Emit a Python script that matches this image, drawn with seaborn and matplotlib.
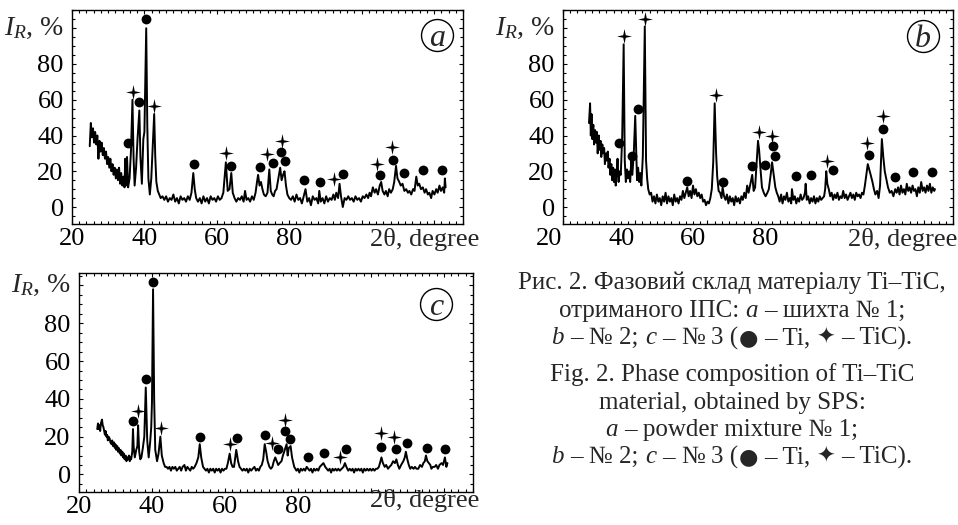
import numpy as np
import pandas as pd
import matplotlib.pyplot as plt
import seaborn as sns
from matplotlib.ticker import MultipleLocator, FixedLocator, FixedFormatter
from matplotlib.offsetbox import TextArea, HPacker, AnnotationBbox
from matplotlib.transforms import ScaledTranslation

# -----------------------------
# STYLE
# -----------------------------
sns.set_theme(style="ticks")
plt.rcParams['font.family'] = ['Liberation Serif', 'DejaVu Sans']
plt.rcParams['mathtext.fontset'] = 'custom'
plt.rcParams['mathtext.rm'] = 'Liberation Serif'
plt.rcParams['mathtext.it'] = 'Liberation Serif:italic'
plt.rcParams['axes.edgecolor'] = 'black'
plt.rcParams['xtick.color'] = 'black'
plt.rcParams['ytick.color'] = 'black'

# -----------------------------
# DATA
# -----------------------------

# panel a - mixture No 1
a_x = [24.9, 25.2, 25.5, 25.8, 26.1, 26.4, 26.7, 27.0, 27.3, 27.6, 27.9, 28.2, 28.5, 28.8, 29.1, 29.4,
       29.7, 30.0, 30.3, 30.6, 30.9, 31.2, 31.5, 31.8, 32.1, 32.4, 32.7, 33.0, 33.3, 33.6, 33.9, 34.2,
       34.5, 34.7, 34.9, 35.2, 35.5, 35.9, 36.3, 36.7, 37.0, 37.3, 37.7, 38.1, 38.6, 38.9, 39.3, 39.7,
       40.0, 40.5, 40.8, 41.1, 41.5, 41.9, 42.3, 42.7, 43.0, 43.3, 43.7, 44.1, 44.5, 45.0, 45.5, 46.0,
       46.5, 47.0, 47.5, 48.0, 48.5, 49.0, 49.5, 50.0, 50.5, 51.0, 51.5, 52.0, 52.5, 53.0, 53.5, 53.9,
       54.3, 54.8, 55.3, 55.8, 56.3, 56.8, 57.3, 57.8, 58.3, 58.8, 59.3, 59.8, 60.3, 60.8, 61.3, 61.8,
       62.5, 63.0, 63.5, 64.0, 64.4, 64.9, 65.4, 65.9, 66.4, 66.9, 67.4, 67.8, 68.2, 68.7, 69.2, 69.7,
       70.2, 70.7, 71.1, 71.4, 71.8, 72.2, 72.6, 73.0, 73.5, 74.0, 74.5, 74.9, 75.3, 75.7, 76.1, 76.5,
       77.0, 77.5, 77.9, 78.3, 78.7, 79.1, 79.5, 80.0, 80.5, 81.0, 81.5, 82.0, 82.5, 83.0, 83.5, 84.0,
       84.5, 85.0, 85.5, 86.0, 86.5, 87.0, 87.5, 88.0, 88.3, 88.7, 89.2, 89.7, 90.2, 90.7, 91.2, 91.7,
       92.2, 92.6, 93.0, 93.5, 93.9, 94.3, 94.8, 95.3, 95.8, 96.3, 96.8, 97.3, 97.8, 98.3, 98.8, 99.3,
       99.8, 100.3, 100.8, 101.3, 101.8, 102.2, 102.6, 103.1, 103.6, 104.0, 104.5, 105.0, 105.4, 105.8,
       106.3, 106.7, 107.2, 107.6, 108.1, 108.6, 109.0, 109.5, 109.9, 110.4, 110.8, 111.3, 111.8, 112.3,
       112.8, 113.2, 113.7, 114.2, 114.6, 115.1, 115.5, 115.9, 116.4, 116.9, 117.4, 117.8, 118.3, 118.7,
       119.2, 119.6, 120.1, 120.6, 121.0, 121.5, 121.9, 122.4, 122.8, 123.0, 123.2]
a_y = [34, 47, 39, 44, 36, 42, 35, 40, 27, 37, 31, 36, 29, 33, 27, 31,
       24, 28, 22, 27, 20, 24, 18, 22, 16, 21, 15, 22, 13, 19, 12, 17,
       11, 27, 12, 28, 11, 16, 32, 60, 28, 12, 22, 38, 54, 28, 13, 38,
       42, 100, 45, 16, 7, 16, 34, 52, 28, 14, 9, 7, 5, 6, 4, 6,
       3, 5, 4, 7, 3, 5, 2, 6, 4, 5, 3, 6, 4, 8, 19, 10,
       5, 3, 5, 2, 6, 3, 5, 2, 6, 4, 5, 3, 6, 4, 5, 8,
       25, 9, 10, 19, 8, 5, 3, 5, 4, 6, 3, 9, 4, 5, 3, 6,
       4, 8, 14, 18, 12, 14, 10, 7, 6, 8, 21, 9, 7, 6, 9, 10,
       16, 22, 15, 18, 20, 12, 7, 5, 4, 6, 3, 7, 4, 5, 2, 6,
       10, 3, 5, 1, 6, 4, 5, 2, 9, 3, 5, 2, 6, 3, 5, 4,
       7, 4, 8, 5, 13, 6, 0, 5, 4, 6, 4, 5, 3, 6, 4, 5,
       3, 6, 5, 7, 5, 8, 6, 11, 8, 10, 7, 12, 14, 9,
       7, 9, 6, 10, 8, 10, 14, 23, 16, 14, 12, 13, 9, 10,
       8, 9, 7, 10, 9, 17, 12, 13, 10, 11, 8, 10, 7, 8,
       5, 9, 7, 10, 8, 12, 9, 11, 8, 16, 11]
a_ti_x = [35.4, 38.6, 40.4, 53.6, 63.9, 71.9, 75.6, 77.7, 78.9, 84.0, 88.6, 94.8, 105.0, 108.6, 111.8, 116.9, 122.1]
a_ti_y = [35.6, 58.9, 105, 24, 23, 22.5, 24.8, 31, 25.7, 15.1, 14.2, 18.5, 17.9, 26.3, 19.2, 20.7, 20.7]
a_tic_x = [36.8, 42.7, 62.5, 73.8, 77.9, 92.5, 104.2, 108.3]
a_tic_y = [64.5, 56.5, 30, 29.5, 36.9, 15.5, 23.9, 33.7]

# panel b - mixture No 2
b_x = [27.2, 27.5, 27.7, 27.9, 28.1, 28.4, 28.6, 28.9, 29.1, 29.4, 29.6, 29.9, 30.1, 30.4, 30.6, 30.9,
       31.1, 31.4, 31.6, 31.9, 32.1, 32.4, 32.6, 32.9, 33.1, 33.4, 33.6, 33.9, 34.1, 34.4, 34.6, 34.9,
       35.1, 35.4, 35.7, 36.0, 36.4, 36.8, 37.1, 37.4, 37.7, 38.0, 38.3, 38.6, 38.9, 39.2, 39.6, 40.0,
       40.2, 40.5, 40.8, 41.1, 41.4, 41.7, 42.1, 42.65, 43.0, 43.3, 43.6, 44.0, 44.4, 44.8, 45.2, 45.6,
       46.0, 46.4, 46.8, 47.2, 47.6, 48.0, 48.4, 48.8, 49.2, 49.6, 50.0, 50.4, 50.8, 51.2, 51.6, 52.0,
       52.4, 52.8, 53.2, 53.6, 54.0, 54.4, 54.8, 55.2, 55.6, 56.0, 56.4, 56.8, 57.2, 57.6, 58.0, 58.4,
       58.8, 59.2, 59.6, 60.0, 60.4, 60.8, 61.2, 61.6, 62.0, 62.4, 62.7, 63.1, 63.5, 63.9, 64.2, 64.6,
       65.0, 65.4, 65.8, 66.2, 66.6, 67.0, 67.4, 67.8, 68.2, 68.6, 69.0, 69.4, 69.8, 70.2, 70.6, 71.0,
       71.4, 71.9, 72.4, 72.8, 73.2, 73.6, 74.0, 74.3, 74.7, 75.1, 75.6, 76.1, 76.6, 77.0, 77.5, 77.9,
       78.4, 78.8, 79.2, 79.6, 80.0, 80.4, 80.8, 81.2, 81.6, 82.0, 82.4, 82.8, 83.2, 83.4, 83.8, 84.2,
       84.6, 85.0, 85.4, 85.8, 86.2, 86.6, 87.0, 87.2, 87.5, 87.9, 88.3, 88.7, 89.1, 89.5, 89.9, 90.3,
       90.7, 91.1, 91.5, 91.9, 92.3, 92.6, 92.9, 93.2, 93.6, 94.0, 94.4, 94.8, 95.2, 95.6, 96.0, 96.4,
       96.8, 97.2, 97.6, 98.0, 98.4, 98.8, 99.2, 99.6, 100.0, 100.4, 100.8, 101.2, 101.6, 102.0, 102.4,
       102.8, 103.2, 103.6, 104.0, 104.4, 104.8, 105.2, 105.7, 106.1, 106.5, 107.0, 107.4, 107.8, 108.3,
       108.7, 109.1, 109.5, 110.0, 110.5, 111.0, 111.5, 112.0, 112.4, 112.8, 113.2, 113.6, 114.0, 114.4,
       114.8, 115.2, 115.6, 116.0, 116.4, 116.8, 117.2, 117.6, 118.0, 118.4, 118.8, 119.2, 119.6, 120.0,
       120.4, 120.8, 121.2, 121.6, 122.0, 122.4, 122.8, 123.0]
b_y = [47, 58, 40, 52, 38, 46, 35, 43, 36, 42, 30, 40, 32, 37, 28, 35,
       30, 33, 24, 30, 26, 31, 22, 27, 18, 24, 15, 22, 14, 21, 12, 20,
       27, 14, 20, 18, 40, 91, 26, 14, 21, 16, 20, 14, 26, 18, 30, 51,
       36, 15, 22, 14, 19, 12, 28, 101, 26, 16, 10, 7, 8, 3, 6, 2,
       7, 3, 5, 1, 6, 3, 8, 2, 6, 3, 5, 1, 7, 3, 5, 2,
       6, 4, 9, 5, 8, 11, 6, 9, 5, 12, 7, 10, 6, 8, 5, 7,
       3, 4, 1, 3, 2, 5, 10, 25, 58, 30, 17, 9, 8, 5, 11, 6,
       4, 7, 2, 6, 3, 5, 1, 6, 3, 5, 2, 6, 4, 8, 5, 12,
       8, 13, 18, 9, 11, 24, 37, 32, 21, 11, 8, 6, 8, 10, 18, 25,
       17, 11, 8, 6, 3, 7, 2, 6, 4, 8, 3, 5, 2, 10, 4, 6,
       2, 5, 3, 7, 4, 5, 8, 13, 4, 6, 2, 5, 3, 6, 2, 5,
       3, 6, 4, 5, 6, 10, 20, 13, 10, 6, 8, 4, 7, 5, 8, 4,
       6, 5, 9, 5, 7, 4, 6, 8, 5, 7, 4, 8, 6, 7, 5,
       8, 7, 12, 18, 24, 21, 18, 14, 10, 7, 9, 5, 12, 38,
       28, 20, 16, 11, 8, 9, 6, 10, 8, 11, 7, 12, 8, 10,
       7, 13, 9, 11, 8, 12, 9, 10, 6, 11, 8, 14, 9, 11,
       8, 12, 9, 13, 8, 11, 9, 10]
b_ti_x = [35.6, 39.1, 40.8, 54.3, 64.4, 72.2, 75.9, 78.1, 78.8, 84.4, 88.7, 94.7, 104.8, 108.5, 112.0, 117.0, 122.1]
b_ti_y = [35.8, 28.3, 55, 14.7, 14, 22.7, 23.6, 33.9, 28.7, 17.5, 18, 20.5, 29.2, 43.8, 16.6, 19.6, 19.6]
b_tic_x = [36.8, 42.65, 62.4, 74.2, 77.9, 93.1, 104.2, 108.5]
b_tic_y = [95.5, 105.3, 62.8, 42, 40, 25.5, 35.8, 50.7]

# panel c - mixture No 3
c_x = [25.0, 25.2, 25.4, 25.6, 25.8, 26.0, 26.3, 26.5, 26.7, 26.9, 27.1, 27.3, 27.5, 27.7, 27.9, 28.1,
       28.4, 28.6, 28.9, 29.1, 29.3, 29.6, 29.8, 30.0, 30.2, 30.5, 30.7, 30.9, 31.2, 31.4, 31.6, 31.9,
       32.1, 32.3, 32.5, 32.8, 33.0, 33.2, 33.4, 33.7, 33.9, 34.1, 34.3, 34.6, 34.8, 35.0, 35.3, 35.7,
       36.0, 36.2, 36.5, 36.8, 37.1, 37.5, 37.9, 38.3, 38.7, 39.1, 39.5, 39.8, 40.0, 40.3, 40.6, 40.9,
       41.4, 41.8, 42.3, 42.7, 43.2, 43.6, 44.0, 44.4, 44.8, 45.2, 45.6, 46.0, 46.4, 46.8, 47.2, 47.6,
       48.0, 48.4, 48.9, 49.3, 49.7, 50.1, 50.5, 50.9, 51.3, 51.7, 52.2, 52.7, 53.1, 53.5, 54.0, 54.4,
       54.8, 55.2, 55.6, 56.0, 56.4, 56.8, 57.2, 57.6, 58.0, 58.4, 58.8, 59.2, 59.6, 60.0, 60.4, 60.8,
       61.3, 61.7, 62.1, 62.5, 63.1, 63.6, 64.0, 64.4, 64.8, 65.2, 65.6, 66.0, 66.4, 66.8, 67.2, 67.6,
       68.1, 68.5, 68.9, 69.3, 69.7, 70.1, 70.5, 70.9, 71.3, 71.7, 72.2, 72.6, 73.0, 73.4, 73.8, 74.2,
       74.6, 75.0, 75.5, 75.9, 76.4, 76.9, 77.2, 77.5, 78.0, 78.4, 79.0, 79.6, 80.0, 80.4, 80.8, 81.2,
       81.6, 82.0, 82.4, 82.8, 83.2, 83.6, 84.0, 84.4, 84.8, 85.2, 85.6, 86.0, 86.5, 87.0, 87.5, 87.9,
       88.3, 88.7, 89.1, 89.5, 89.9, 90.3, 90.7, 91.1, 91.5, 92.0, 92.5, 92.9, 93.3, 93.8, 94.2, 94.6,
       95.0, 95.4, 95.8, 96.2, 96.6, 97.0, 97.4, 97.8, 98.2, 98.6, 99.0, 99.4, 99.8, 100.2, 100.6, 101.0,
       101.4, 101.8, 102.2, 102.5, 102.9, 103.3, 103.8, 104.2, 104.7, 105.1, 105.6, 106.1, 106.6, 107.0,
       107.4, 107.8, 108.3, 108.9, 109.3, 109.6, 110.0, 110.4, 110.8, 111.2, 111.7, 112.1, 112.5, 113.0,
       113.5, 114.0, 114.4, 114.8, 115.1, 115.5, 115.9, 116.3, 116.6, 117.0, 117.5, 117.9, 118.4, 118.8,
       119.4, 119.8, 120.3, 120.7, 121.0]
c_y = [24, 27, 24, 26, 23, 27, 29, 26, 25, 23, 21, 23, 20, 21, 18, 20,
       19, 17, 16, 18, 15, 17, 14, 16, 13, 15, 12, 14, 11, 13, 10, 12,
       9, 11, 8, 10, 7, 9, 8, 10, 7, 9, 8, 12, 24, 14, 9, 13,
       15, 26, 12, 8, 9, 14, 20, 46, 18, 9, 17, 25, 38, 98, 40, 13,
       7, 11, 20, 10, 6, 4, 4, 3, 4, 2, 4, 3, 4, 2, 3, 4,
       2, 4, 5, 2, 4, 3, 2, 4, 3, 4, 6, 9, 16, 9, 4, 3,
       2, 3, 1, 3, 2, 3, 1, 3, 2, 3, 1, 3, 2, 3, 3, 6,
       11, 6, 4, 4, 13, 7, 4, 3, 2, 3, 2, 3, 1, 3, 2, 3,
       4, 2, 3, 2, 4, 5, 8, 16, 12, 7, 4, 3, 4, 7, 9, 7,
       5, 6, 7, 10, 13, 16, 10, 14, 15, 9, 4, 2, 3, 1, 3, 2,
       3, 2, 4, 3, 2, 3, 1, 3, 2, 3, 2, 4, 5, 6, 4, 3,
       2, 3, 1, 3, 2, 3, 2, 3, 2, 3, 4, 6, 4, 2, 3, 2,
       3, 1, 3, 2, 3, 2, 3, 1, 3, 2, 3, 2, 3, 2, 3, 2,
       3, 3, 4, 6, 9, 6, 4, 5, 3, 4, 5, 7, 6, 8,
       5, 3, 5, 7, 9, 12, 8, 5, 3, 4, 3, 4, 3, 3,
       5, 4, 6, 7, 10, 7, 6, 5, 3, 4, 4, 5, 3, 5,
       6, 5, 9, 4, 6]
c_ti_x = [34.9, 38.3, 40.2, 53.2, 63.2, 71.1, 74.6, 76.4, 77.8, 82.8, 87.2, 93.3, 102.9, 106.8, 109.8, 115.3, 120.3]
c_ti_y = [28.3, 50.4, 102, 20, 19.1, 20.9, 13.3, 23, 18.8, 9.1, 11.2, 13.3, 14.7, 13.5, 16.8, 14, 13.2]
c_tic_x = [36.2, 42.4, 61.4, 72.8, 76.6, 91.5, 102.9, 106.4]
c_tic_y = [33.6, 24.4, 16.1, 16.6, 28.8, 9.4, 21.8, 20]

x_tick_vals = [20, 40, 60, 80, 100, 120]
x_tick_text = ['20', '40', '60', '80', '', '']
y_tick_vals = [0, 20, 40, 60, 80, 100]
y_tick_text = ['0', '20', '40', '60', '80', '']

# each line: words separated by a space; each word: segments (text, n=normal / i=italic / s=symbol)
legend_tail = [[("–", "n")], [("№", "n")], [("3 (", "n"), ("●", "s")], [("– Ti,", "n")],
               [("✦", "s")], [("– TiC).", "n")]]
caption_lines = [
    [[("Рис. 2. Фазовий склад матеріалу Ti–TiC,", "n")]],
    [[("отриманого ІПС:", "n")], [("a", "i")], [("– шихта № 1;", "n")]],
    [[("b", "i")], [("– № 2;", "n")], [("c", "i")]] + legend_tail,
    [[("Fig. 2. Phase composition of Ti–TiC", "n")]],
    [[("material, obtained by SPS:", "n")]],
    [[("a", "i")], [("– powder mixture № 1;", "n")]],
    [[("b", "i")], [("– № 2;", "n")], [("c", "i")]] + legend_tail,
]

# -----------------------------
# FIGURE
# -----------------------------
W, H = 958, 525
fig = plt.figure(figsize=(W / 100, H / 100), dpi=100)
fig.patch.set_facecolor('white')

FS = 19
CAP_FS = 18
star = [(0, 1), (0.17, 0.17), (1, 0), (0.17, -0.17), (0, -1), (-0.17, -0.17), (-1, 0), (-0.17, 0.17), (0, 1)]


def px_axes(l, t, r, b):
    return fig.add_axes([l / W, 1 - b / H, (r - l) / W, (b - t) / H])


def draw_panel(ax, x, y, ti_x, ti_y, tic_x, tic_y, ylim, letter, circ, lab_shift, xlab_pos):
    sns.lineplot(x=x, y=y, ax=ax, color='black', lw=1.4, estimator=None, sort=False)
    ax.scatter(ti_x, ti_y, marker='o', s=50, color='black', lw=0, zorder=3)
    ax.scatter(tic_x, tic_y, marker=star, s=115, color='black', lw=0, zorder=3)

    ax.set_xlim(20, 128)
    ax.set_ylim(*ylim)
    ax.set_facecolor('white')
    for sp in ax.spines.values():
        sp.set_visible(True)
        sp.set_linewidth(1.0)
        sp.set_color('black')

    ax.xaxis.set_major_locator(FixedLocator(x_tick_vals))
    ax.xaxis.set_major_formatter(FixedFormatter(x_tick_text))
    ax.yaxis.set_major_locator(FixedLocator(y_tick_vals))
    ax.yaxis.set_major_formatter(FixedFormatter(y_tick_text))
    ax.xaxis.set_minor_locator(MultipleLocator(2))
    ax.yaxis.set_minor_locator(MultipleLocator(5))
    ax.tick_params(which='both', direction='in', top=True, right=True, width=0.8, color='black')
    ax.tick_params(which='major', length=3.0)
    ax.tick_params(which='minor', length=2.2)
    ax.tick_params(axis='x', labelsize=FS, pad=3)
    ax.tick_params(axis='y', labelsize=FS, pad=6)
    ax.set_xlabel('')
    ax.set_ylabel('')

    if lab_shift:
        off = ScaledTranslation(lab_shift / 100, 0, fig.dpi_scale_trans)
        for lbl in ax.get_xticklabels():
            lbl.set_transform(lbl.get_transform() + off)

    ax.annotate("$I_R$, %", xy=(0, 100), xycoords=('axes fraction', 'data'),
                xytext=(-6, 0), textcoords='offset points', ha='right', va='center', fontsize=FS + 1)
    fig.text(xlab_pos[0] / W, 1 - xlab_pos[1] / H, "2θ, degree", ha='right', va='center', fontsize=FS)

    ax.plot([circ[0]], [circ[1]], marker='o', ms=23, mfc='white', mec='black', mew=1.0,
            transform=ax.transAxes, clip_on=False, zorder=4)
    ax.text(circ[0], circ[1], letter, style='italic', fontsize=23, ha='center', va='center_baseline',
            transform=ax.transAxes, zorder=5)


ax_a = px_axes(72, 10, 463, 224)
ax_b = px_axes(563, 10, 953, 224)
ax_c = px_axes(79, 273, 473, 492)

draw_panel(ax_a, a_x, a_y, a_ti_x, a_ti_y, a_tic_x, a_tic_y, (-9.5, 110.2), 'a', (0.933, 0.883), 0, (479, 240))
draw_panel(ax_b, b_x, b_y, b_ti_x, b_ti_y, b_tic_x, b_tic_y, (-9.5, 110.2), 'b', (0.923, 0.880), -14, (957, 240))
draw_panel(ax_c, c_x, c_y, c_ti_x, c_ti_y, c_tic_x, c_tic_y, (-9.3, 106.6), 'c', (0.907, 0.858), 0, (479, 501))

# -----------------------------
# CAPTION
# -----------------------------
seg_props = {
    "n": dict(fontsize=CAP_FS, family=['Liberation Serif', 'DejaVu Sans']),
    "i": dict(fontsize=CAP_FS, style='italic', family=['Liberation Serif', 'DejaVu Sans']),
    "s": dict(fontsize=CAP_FS - 2, family=['DejaVu Sans']),
}
cap_y = [283, 311, 338, 375, 403, 430, 457]
for words, yy in zip(caption_lines, cap_y):
    word_boxes = []
    for segs in words:
        areas = [TextArea(txt, textprops=seg_props[kind]) for txt, kind in segs]
        word_boxes.append(HPacker(children=areas, align='baseline', pad=0, sep=0))
    box = HPacker(children=word_boxes, align='baseline', pad=0, sep=CAP_FS * 0.25)
    ab = AnnotationBbox(box, (732 / W, 1 - yy / H), xycoords='figure fraction',
                        box_alignment=(0.5, 0.5), frameon=False, pad=0)
    fig.add_artist(ab)

fig.savefig('out.png', dpi=100, facecolor='white')
